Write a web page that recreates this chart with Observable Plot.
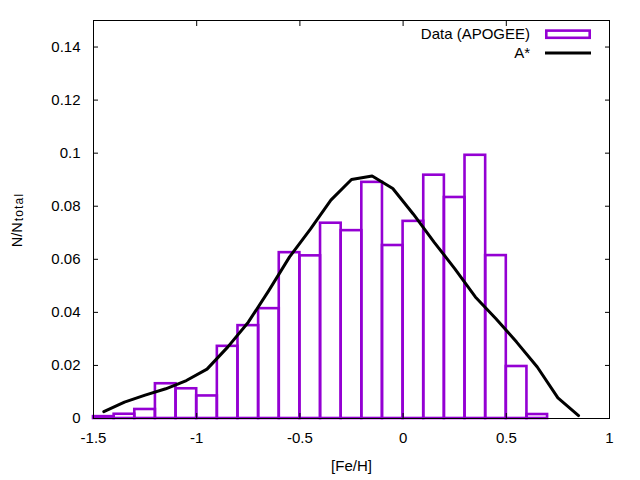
<!DOCTYPE html>
<html>
<head>
<meta charset="utf-8">
<script src="https://cdn.jsdelivr.net/npm/d3@7"></script>
<script src="https://cdn.jsdelivr.net/npm/@observablehq/plot@0.6"></script>
<style>
  html, body { margin: 0; padding: 0; background: #fff; }
</style>
</head>
<body>
<div id="chart"></div>
<script>
// Histogram bins (left edges, width 0.1) and normalized counts
const binLeft = [-1.5, -1.4, -1.3, -1.2, -1.1, -1.0, -0.9, -0.8, -0.7, -0.6, -0.5,
                 -0.4, -0.3, -0.2, -0.1, 0.0, 0.1, 0.2, 0.3, 0.4, 0.5, 0.6];
const binWidth = 0.1;
const dataValues = [0.0007, 0.0016, 0.0034, 0.0131, 0.0112, 0.0085, 0.0272, 0.0350, 0.0414, 0.0625, 0.0613,
                    0.0736, 0.0708, 0.0890, 0.0652, 0.0743, 0.0917, 0.0833, 0.0992, 0.0614, 0.0196, 0.0015];
// Model curve A*
const curveX = [-1.45, -1.35, -1.25, -1.15, -1.05, -0.95, -0.85, -0.75, -0.65, -0.55, -0.45, -0.35,
                -0.25, -0.15, -0.05, 0.05, 0.15, 0.25, 0.35, 0.45, 0.55, 0.65, 0.75, 0.85];
const curveY = [0.0026, 0.0062, 0.0088, 0.0112, 0.0143, 0.0186, 0.0269, 0.0363, 0.0483, 0.0609, 0.0713, 0.0823,
                0.0901, 0.0914, 0.0867, 0.0770, 0.0665, 0.0565, 0.0458, 0.0376, 0.0288, 0.0194, 0.0078, 0.0011];
const xTicks = [-1.5, -1, -0.5, 0, 0.5, 1];
const xTickLabels = ["-1.5", "-1", "-0.5", "0", "0.5", "1"];
const yTicks = [0, 0.02, 0.04, 0.06, 0.08, 0.1, 0.12, 0.14];
const yTickLabels = ["0", "0.02", "0.04", "0.06", "0.08", "0.1", "0.12", "0.14"];
const seriesNames = ["Data (APOGEE)", "A*"];
const xLabel = "[Fe/H]";

const bins = binLeft.map((b, i) => ({x1: b, x2: b + binWidth, y: dataValues[i]}));
const curve = curveX.map((x, i) => ({x, y: curveY[i]}));

const purple = "#9400d3";
const font = "'Liberation Sans', Arial, sans-serif";

const chart = Plot.plot({
  width: 640,
  height: 480,
  marginLeft: 93,
  marginRight: 31,
  marginTop: 20,
  marginBottom: 62,
  style: {fontFamily: font, fontSize: "15px", background: "#fff", color: "#000"},
  x: {domain: [-1.5, 1], label: null},
  y: {domain: [0, 0.15], label: null},
  marks: [
    Plot.rectY(bins, {x1: "x1", x2: "x2", y1: 0, y2: "y", fill: "none", stroke: purple, strokeWidth: 2.6}),
    Plot.line(curve, {x: "x", y: "y", stroke: "#000", strokeWidth: 3, strokeLinejoin: "round"}),
    Plot.frame({stroke: "#000", strokeWidth: 1}),
    Plot.axisX({anchor: "bottom", ticks: xTicks, tickSize: -5, tickPadding: 19,
      tickFormat: d => xTickLabels[xTicks.indexOf(d)], label: null, fontSize: 15}),
    Plot.axisX({anchor: "top", ticks: xTicks, tickSize: -5, tickFormat: () => "", label: null}),
    Plot.axisY({anchor: "left", ticks: yTicks, tickSize: -5, tickPadding: 18,
      tickFormat: d => yTickLabels[yTicks.indexOf(d)], label: null, fontSize: 15}),
    Plot.axisY({anchor: "right", ticks: yTicks, tickSize: -5, tickFormat: () => "", label: null}),
    Plot.text([xLabel], {frameAnchor: "bottom", text: d => d, dy: 52, fontSize: 15})
  ]
});

document.getElementById("chart").appendChild(chart);

const svg = d3.select(chart);
// Y axis label with subscript
const yl = svg.append("text")
  .attr("transform", "translate(22,220) rotate(-90)")
  .attr("text-anchor", "middle")
  .attr("font-family", font)
  .attr("font-size", 14.5)
  .attr("fill", "#000");
yl.append("tspan").text("N/N");
yl.append("tspan").attr("font-size", 12).attr("dy", 0.5).attr("dx", 1).attr("letter-spacing", 1.2).text("total");

// Legend
const lg = svg.append("g").attr("font-family", font).attr("font-size", 15).attr("fill", "#000");
lg.append("text").attr("x", 530).attr("y", 39).attr("text-anchor", "end").text(seriesNames[0]);
lg.append("rect").attr("x", 546.3).attr("y", 30.6).attr("width", 43.4).attr("height", 7.2)
  .attr("fill", "none").attr("stroke", purple).attr("stroke-width", 2.6);
lg.append("text").attr("x", 530).attr("y", 57.5).attr("text-anchor", "end").text(seriesNames[1]);
lg.append("line").attr("x1", 545).attr("x2", 591).attr("y1", 53).attr("y2", 53)
  .attr("stroke", "#000").attr("stroke-width", 3);
</script>
</body>
</html>
